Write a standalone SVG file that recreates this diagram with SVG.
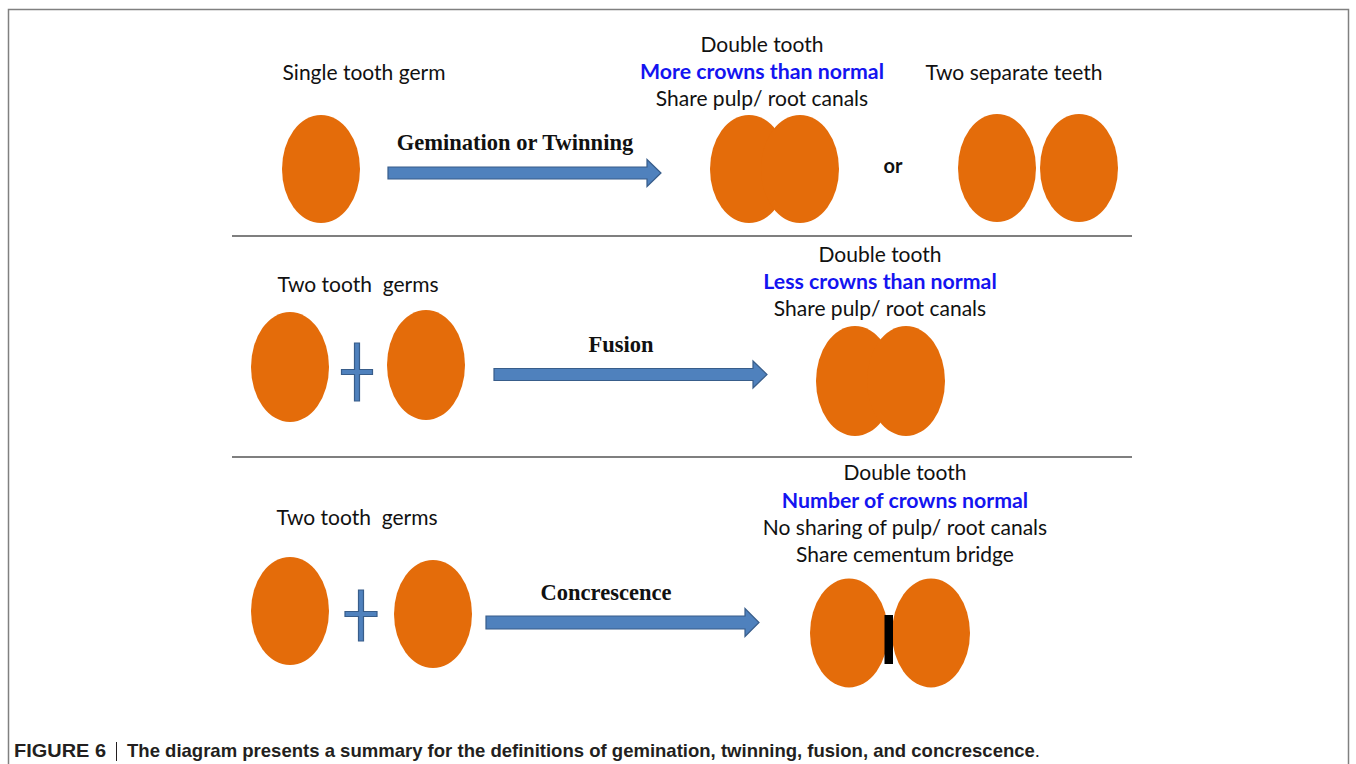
<svg xmlns="http://www.w3.org/2000/svg" width="1356" height="764" viewBox="0 0 1356 764">
<style>
.t{font-family:Lato,"Open Sans",sans-serif;font-size:21px;fill:#111;text-anchor:middle}
.b{font-family:Lato,"Open Sans",sans-serif;font-size:21.3px;font-weight:bold;fill:#1414f0;text-anchor:middle}
.lab{font-family:"Liberation Serif","Times New Roman",serif;font-size:22.5px;font-weight:bold;fill:#111;text-anchor:middle}
.tooth{fill:#E46C0A}
.arrow{fill:#4F81BD;stroke:#385D8A;stroke-width:1.2}
.sep{stroke:#555;stroke-width:1.5}
.cap{font-family:"Liberation Sans",Arial,sans-serif;font-size:18.5px;font-weight:bold;fill:#231f20}
</style>
<rect x="0" y="0" width="1356" height="764" fill="#fff"/>
<rect x="8.5" y="9.5" width="1340" height="800" fill="none" stroke="#808080" stroke-width="1.5"/>

<line class="sep" x1="232" y1="236" x2="1132" y2="236"/>
<line class="sep" x1="232" y1="457" x2="1132" y2="457"/>

<g id="single-germ">
<text class="t" x="364" y="80">Single tooth germ</text>
<ellipse class="tooth" cx="321" cy="169" rx="39" ry="54"/>
</g>

<g id="double-tooth-gemination">
<text class="t" x="762" y="52">Double tooth</text>
<text class="b" x="762" y="79">More crowns than normal</text>
<text class="t" x="762" y="106">Share pulp/ root canals</text>
<ellipse class="tooth" cx="749" cy="169" rx="39" ry="54"/>
<ellipse class="tooth" cx="800" cy="169" rx="39" ry="54"/>
</g>

<g id="or-label">
<text x="893" y="173" style="font-family:Lato,'Open Sans',sans-serif;font-size:20px;font-weight:bold;fill:#111;text-anchor:middle">or</text>
</g>

<g id="two-separate-teeth">
<text class="t" x="1014" y="80">Two separate teeth</text>
<ellipse class="tooth" cx="997" cy="168" rx="39" ry="54"/>
<ellipse class="tooth" cx="1079" cy="168" rx="39" ry="54"/>
</g>

<g id="two-germs-fusion">
<text class="t" x="358" y="292" xml:space="preserve">Two tooth  germs</text>
<ellipse class="tooth" cx="290" cy="367" rx="39" ry="55"/>
<path class="arrow" d="M354.5,343 h5 v26.5 h13 v5 h-13 v26.5 h-5 v-26.5 h-13 v-5 h13 z"/>
<ellipse class="tooth" cx="426" cy="365" rx="39" ry="55"/>
</g>

<g id="double-tooth-fusion">
<text class="t" x="880" y="262">Double tooth</text>
<text class="b" x="880" y="289">Less crowns than normal</text>
<text class="t" x="880" y="316">Share pulp/ root canals</text>
<ellipse class="tooth" cx="855" cy="381" rx="39" ry="55"/>
<ellipse class="tooth" cx="906" cy="381" rx="39" ry="55"/>
</g>

<g id="two-germs-concrescence">
<text class="t" x="357" y="525" xml:space="preserve">Two tooth  germs</text>
<ellipse class="tooth" cx="290" cy="611" rx="39" ry="54"/>
<path class="arrow" d="M358.5,590 h5 v21.5 h13.5 v5 h-13.5 v24.5 h-5 v-24.5 h-13.5 v-5 h13.5 z"/>
<ellipse class="tooth" cx="433" cy="614" rx="39" ry="54"/>
</g>

<g id="double-tooth-concrescence">
<text class="t" x="905" y="480">Double tooth</text>
<text class="b" x="905" y="508">Number of crowns normal</text>
<text class="t" x="905" y="535">No sharing of pulp/ root canals</text>
<text class="t" x="905" y="562">Share cementum bridge</text>
<ellipse class="tooth" cx="849" cy="633" rx="39" ry="54.5"/>
<ellipse class="tooth" cx="931" cy="633" rx="39" ry="54.5"/>
<rect x="884.5" y="615" width="8.5" height="49" fill="#000"/>
</g>

<g id="connectors">
<path class="arrow" d="M388,167 H647 V159.5 L661,173 L647,186.5 V179 H388 Z"/>
<text class="lab" x="515" y="150">Gemination or Twinning</text>
<path class="arrow" d="M494,368.5 H753 V361 L767,374.5 L753,388 V380.5 H494 Z"/>
<text class="lab" x="621" y="352">Fusion</text>
<path class="arrow" d="M486,616 H745 V608.5 L759,622.5 L745,636.5 V629 H486 Z"/>
<text class="lab" x="606" y="600">Concrescence</text>
</g>

<g id="caption">
<text class="cap" x="14" y="757" textLength="92" lengthAdjust="spacingAndGlyphs">FIGURE 6</text>
<line x1="116.5" y1="742" x2="116.5" y2="761" stroke="#231f20" stroke-width="1"/>
<text class="cap" x="127" y="757" textLength="913" lengthAdjust="spacingAndGlyphs">The diagram presents a summary for the definitions of gemination, twinning, fusion, and concrescence<tspan font-weight="normal">.</tspan></text>
</g>
</svg>
